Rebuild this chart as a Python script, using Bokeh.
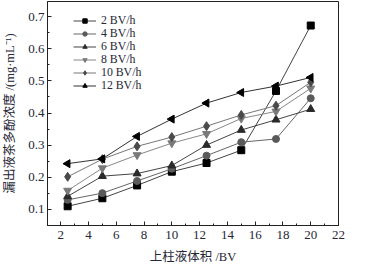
from bokeh.plotting import figure
from bokeh.models import FixedTicker, Legend, LegendItem, Range1d
from bokeh.embed import file_html
from bokeh.resources import INLINE
import math

# ---- data ----
volume_bv = [2.5, 5, 7.5, 10, 12.5, 15, 17.5, 20]
rate_2 = [0.109, 0.134, 0.174, 0.217, 0.244, 0.284, 0.469, 0.673]
rate_4 = [0.129, 0.150, 0.188, 0.226, 0.267, 0.309, 0.319, 0.446]
rate_6 = [0.140, 0.203, 0.211, 0.236, 0.300, 0.347, 0.379, 0.412]
rate_8 = [0.158, 0.228, 0.269, 0.306, 0.335, 0.383, 0.405, 0.477]
rate_10 = [0.201, 0.256, 0.296, 0.325, 0.359, 0.394, 0.423, 0.496]
rate_12 = [0.242, 0.257, 0.327, 0.381, 0.431, 0.464, 0.484, 0.511]
series_labels = ["2 BV/h", "4 BV/h", "6 BV/h", "8 BV/h", "10 BV/h", "12 BV/h"]
x_ticks = [2, 4, 6, 8, 10, 12, 14, 16, 18, 20, 22]
y_ticks = [0.1, 0.2, 0.3, 0.4, 0.5, 0.6, 0.7]

SERIF = "'Liberation Serif', 'Noto Sans CJK SC'"
TXT = "#262636"

p = figure(width=360, height=271, output_backend="svg", toolbar_location=None,
           x_range=Range1d(1.05, 22), y_range=Range1d(0.049, 0.748),
           min_border_left=41, min_border_right=22, min_border_top=1, min_border_bottom=46)
p.grid.visible = False
p.outline_line_color = "#222222"
p.outline_line_width = 1
p.background_fill_color = "white"
p.border_fill_color = "white"

styles = [
    (rate_2, "square", "#000000", "#444444", 7, 0),
    (rate_4, "circle", "#5a5a5a", "#666666", 7, 0),
    (rate_6, "triangle", "#2a2a2a", "#444444", 8, 0),
    (rate_8, "inverted_triangle", "#7a7a7a", "#888888", 8, 0),
    (rate_10, "diamond", "#4a4a4a", "#777777", 9, 0),
    (rate_12, "triangle", "#000000", "#333333", 8, math.pi / 2),
]
for i, ((ys, marker, mc, lc, size, ang), lab) in enumerate(zip(styles, series_labels)):
    l = p.line(volume_bv, ys, line_color=lc, line_width=1)
    s = p.scatter(volume_bv, ys, marker=marker, size=size, angle=ang,
                  fill_color=mc, line_color=mc)
    lg = Legend(items=[LegendItem(label=lab, renderers=[l, s])],
                location=(26, 197 - 13 * i), padding=0, margin=0, spacing=0,
                glyph_width=23, glyph_height=11, label_height=11, label_standoff=5,
                label_text_font="'Liberation Serif'", label_text_font_size="11.8px",
                label_text_color=TXT, border_line_color=None,
                background_fill_alpha=0)
    p.add_layout(lg)

for ax in (p.xaxis[0], p.yaxis[0]):
    ax.axis_line_color = "#222222"
    ax.major_tick_line_color = "#222222"
    ax.minor_tick_line_color = "#222222"
    ax.major_tick_in = 4
    ax.major_tick_out = 0
    ax.minor_tick_in = 2
    ax.minor_tick_out = 0
    ax.major_label_text_font = SERIF
    ax.major_label_text_font_size = "13px"
    ax.major_label_text_color = TXT
    ax.axis_label_text_font = SERIF
    ax.axis_label_text_font_size = "12.5px"
    ax.axis_label_text_font_style = "normal"
    ax.axis_label_text_color = TXT

p.xaxis[0].ticker = FixedTicker(ticks=x_ticks, minor_ticks=list(range(1, 23)))
p.yaxis[0].ticker = FixedTicker(ticks=y_ticks,
                                minor_ticks=[round(0.05 * i, 2) for i in range(1, 16)])
p.xaxis[0].major_label_standoff = 5
p.yaxis[0].major_label_standoff = 3
p.xaxis[0].axis_label = "上柱液体积 /BV"
p.yaxis[0].axis_label = "漏出液茶多酚浓度 /(mg·mL⁻¹)"
p.xaxis[0].axis_label_standoff = 8
p.yaxis[0].axis_label_standoff = 8

open("out.html", "w").write(file_html(p, INLINE))
